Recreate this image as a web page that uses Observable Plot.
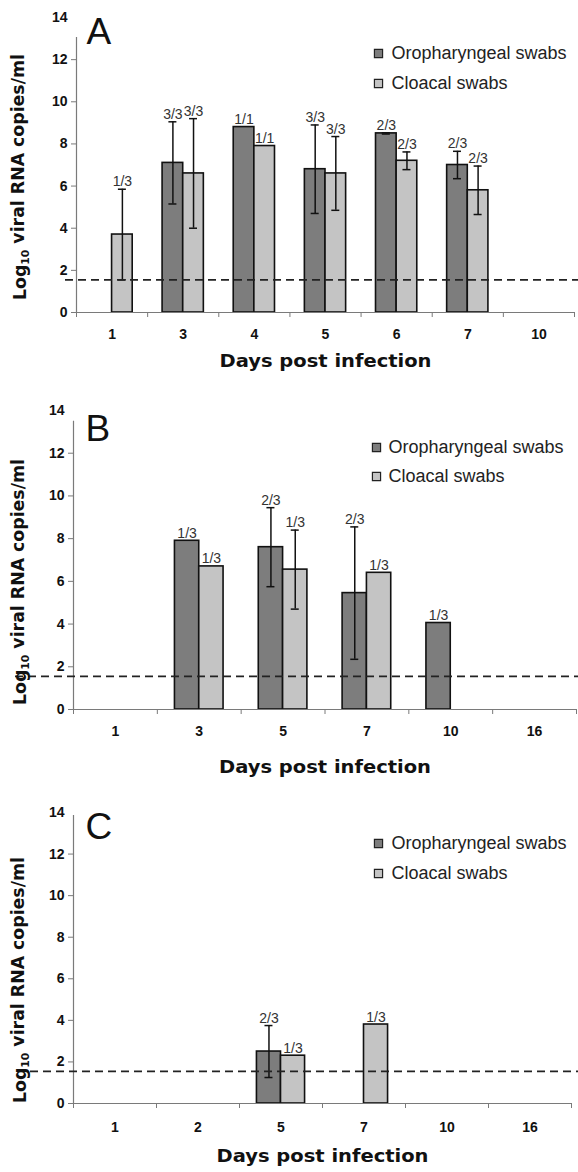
<!DOCTYPE html>
<html><head><meta charset="utf-8">
<script src="https://cdn.jsdelivr.net/npm/d3@7"></script>
<script src="https://cdn.jsdelivr.net/npm/@observablehq/plot@0.6"></script>
<style>
body{margin:0;background:#fff;font-family:"Liberation Sans",Arial,sans-serif;}
#chart svg{display:block;background:#fff;}
</style></head><body><div id="chart"></div>
<script>
// ---- data ----
const seriesNames = ["Oropharyngeal swabs", "Cloacal swabs"];
const seriesColors = ["#7d7d7d", "#c4c4c4"];
const yTicks = [0, 2, 4, 6, 8, 10, 12, 14];
const detectionLimit = 1.55;
const yLabel = "Log10 viral RNA copies/ml";
const xLabel = "Days post infection";

const daysA = ["1", "3", "4", "5", "6", "7", "10"];
const oroA = [null, 7.1, 8.8, 6.8, 8.5, 7.0, null];
const oroErrA = [null, 1.95, 0, 2.1, 0.03, 0.65, null];
const oroPosA = [null, "3/3", "1/1", "3/3", "2/3", "2/3", null];
const cloA = [3.7, 6.6, 7.9, 6.6, 7.2, 5.8, null];
const cloErrA = [2.15, 2.6, 0, 1.75, 0.42, 1.15, null];
const cloPosA = ["1/3", "3/3", "1/1", "3/3", "2/3", "2/3", null];

const daysB = ["1", "3", "5", "7", "10", "16"];
const oroB = [null, 7.9, 7.6, 5.45, 4.05, null];
const oroErrB = [null, 0, 1.85, 3.1, 0, null];
const oroPosB = [null, "1/3", "2/3", "2/3", "1/3", null];
const cloB = [null, 6.7, 6.55, 6.4, null, null];
const cloErrB = [null, 0, 1.85, 0, null, null];
const cloPosB = [null, "1/3", "1/3", "1/3", null, null];

const daysC = ["1", "2", "5", "7", "10", "16"];
const oroC = [null, null, 2.5, null, null, null];
const oroErrC = [null, null, 1.25, null, null, null];
const oroPosC = [null, null, "2/3", null, null, null];
const cloC = [null, null, 2.3, 3.8, null, null];
const cloErrC = [null, null, 0, 0, null, null];
const cloPosC = [null, null, "1/3", "1/3", null, null];

// ---- layout per panel ----
const layouts = [
  {letter: "A", height: 390, mt: 17, mb: 78, ml: 76, mr: 4, dashL: -11, dashR: -4, letterDx: 10, letterDy: 0, axisTop: 13.05,
   sqDx: 302, txDx: 315, rowDy: [36, 66], tickDy: 26, titleDy: 54, ylDx: -56, ylDy: 12},
  {letter: "B", height: 390, mt: 20, mb: 71, ml: 73, mr: 2, dashL: -58, dashR: -2, letterDx: 12, letterDy: 4, axisTop: 13.5,
   sqDx: 303, txDx: 315, rowDy: [37, 66], tickDy: 26, titleDy: 63, ylDx: -53, ylDy: 22},
  {letter: "C", height: 392, mt: 32, mb: 69, ml: 73, mr: 7, dashL: -56, dashR: -7, letterDx: 12, letterDy: 0, axisTop: 13.85,
   sqDx: 305, txDx: 318, rowDy: [31, 61], tickDy: 28, titleDy: 58, ylDx: -53, ylDy: 22}
];

const barStart = [0.21, 0.5], barEnd = [0.5, 0.79];
const boldFont = "'DejaVu Sans', sans-serif";

function panel(L, days, series) {
  const rows = [];
  days.forEach((day, i) => {
    series.forEach(([v, e, p], s) => {
      if (v[i] != null) rows.push({i, s, day, value: v[i], err: e[i] || 0, pos: p[i]});
    });
  });
  const center = d => d.i + (barStart[d.s] + barEnd[d.s]) / 2;
  const errRows = rows.filter(d => d.err > 0);
  const n = days.length;
  const axisColor = "#7a7a7a";
  const marks = [
    // axes lines & ticks
    Plot.ruleX([0], {y1: 0, y2: L.axisTop, stroke: axisColor, strokeWidth: 1.2}),
    Plot.axisY({ticks: yTicks.filter(t => t <= L.axisTop), label: null, tickSize: 5, tickFormat: () => "", stroke: axisColor}),
    Plot.axisY({ticks: yTicks, label: null, tickSize: 0, tickPadding: 9, fontSize: 14, fontWeight: "bold", fill: "#111"}),
    Plot.axisX({ticks: d3.range(n + 1), label: null, tickSize: 5, tickFormat: () => "", stroke: axisColor}),
    Plot.text(days, {x: (d, i) => i + 0.5, frameAnchor: "bottom", dy: L.tickDy, fontSize: 14, fontWeight: "bold", fill: "#111"}),
    // bars
    ...[0, 1].map(s => Plot.rectY(rows.filter(d => d.s === s), {
      x1: d => d.i + barStart[d.s], x2: d => d.i + barEnd[d.s], y1: 0, y2: "value",
      fill: seriesColors[s], stroke: "#111", strokeWidth: 1.6
    })),
    Plot.ruleY([0], {stroke: axisColor, strokeWidth: 1.2}),
    // error bars
    Plot.ruleX(errRows, {x: center, y1: d => d.value - d.err, y2: d => d.value + d.err, stroke: "#111", strokeWidth: 1.5}),
    Plot.ruleY(errRows, {x1: center, x2: center, y: d => d.value + d.err, insetLeft: -4, insetRight: -4, stroke: "#111", strokeWidth: 1.5}),
    Plot.ruleY(errRows, {x1: center, x2: center, y: d => d.value - d.err, insetLeft: -4, insetRight: -4, stroke: "#111", strokeWidth: 1.5}),
    // detection limit
    Plot.ruleY([detectionLimit], {stroke: "#222", strokeWidth: 1.7, strokeDasharray: "8,5", insetLeft: L.dashL, insetRight: L.dashR}),
    // positive counts
    Plot.text(rows, {x: center, y: d => d.value + d.err, text: "pos", dy: -3, lineAnchor: "bottom", fontSize: 14, fill: "#333"}),
    // panel letter
    Plot.text([L.letter], {frameAnchor: "top-left", dx: L.letterDx, dy: L.letterDy, lineAnchor: "top", textAnchor: "start", fontSize: 37, fill: "#111"}),
    // axis titles
    Plot.text([xLabel], {frameAnchor: "bottom", dy: L.titleDy, fontSize: 18, fontWeight: "bold", fontFamily: boldFont, fill: "#111"}),
    Plot.text([yLabel], {frameAnchor: "left", textAnchor: "middle", rotate: -90, dx: L.ylDx, dy: L.ylDy, fontSize: 17, fontWeight: "bold", fontFamily: boldFont, fill: "#111"}),
    // legend
    ...seriesNames.flatMap((name, s) => [
      Plot.dot([name], {frameAnchor: "top-left", dx: L.sqDx, dy: L.rowDy[s], symbol: "square", r: 4.6, fill: seriesColors[s], stroke: "#222", strokeWidth: 1.2}),
      Plot.text([name], {frameAnchor: "top-left", dx: L.txDx, dy: L.rowDy[s], textAnchor: "start", lineAnchor: "middle", fontSize: 18, fill: "#222"})
    ])
  ];
  return Plot.plot({
    width: 578, height: L.height,
    marginTop: L.mt, marginBottom: L.mb, marginLeft: L.ml, marginRight: L.mr,
    style: {fontFamily: "'Liberation Sans', Arial, sans-serif", background: "#fff"},
    x: {type: "linear", domain: [0, n]},
    y: {domain: [0, 14]},
    marks
  });
}

const panels = [
  panel(layouts[0], daysA, [[oroA, oroErrA, oroPosA], [cloA, cloErrA, cloPosA]]),
  panel(layouts[1], daysB, [[oroB, oroErrB, oroPosB], [cloB, cloErrB, cloPosB]]),
  panel(layouts[2], daysC, [[oroC, oroErrC, oroPosC], [cloC, cloErrC, cloPosC]])
];
const container = document.getElementById("chart");
panels.forEach(svg => {
  container.appendChild(svg);
  // subscript "10" in the y label, and stretch to the reference length
  d3.select(svg).selectAll("text").filter(function() { return this.textContent === yLabel; }).each(function() {
    const t = d3.select(this);
    t.text(null);
    t.append("tspan").text("Log");
    t.append("tspan").attr("dy", "0.3em").attr("font-size", "0.62em").text("10");
    t.append("tspan").attr("dy", "-0.3em").text(" viral RNA copies/ml");
    t.attr("textLength", 246).attr("lengthAdjust", "spacingAndGlyphs");
  });
  d3.select(svg).selectAll("text").filter(function() { return this.textContent === xLabel; })
    .attr("textLength", 212).attr("lengthAdjust", "spacingAndGlyphs");
});
</script></body></html>
